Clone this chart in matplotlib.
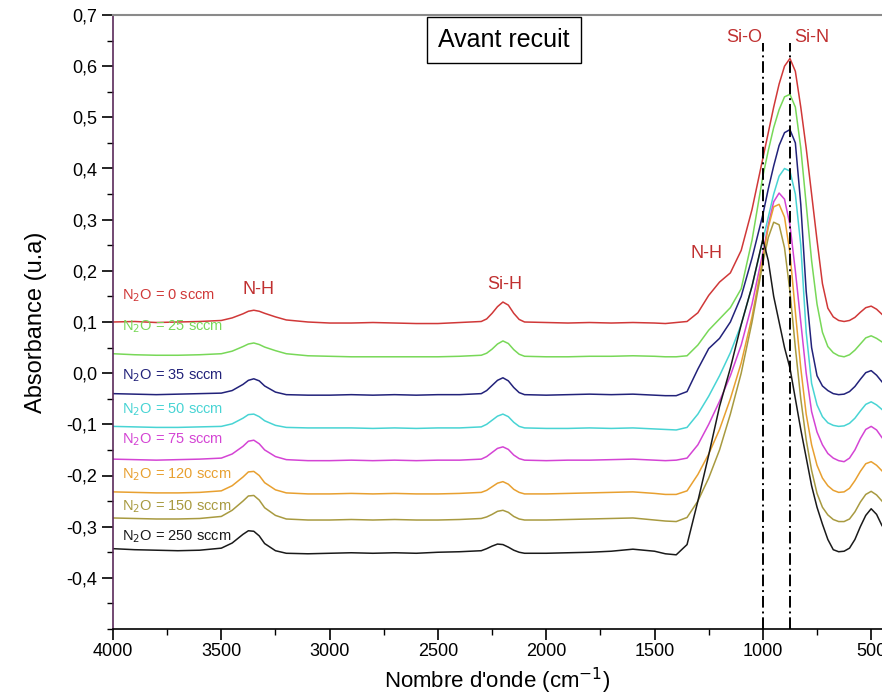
import matplotlib
matplotlib.use("Agg")
import matplotlib.pyplot as plt
from matplotlib.ticker import FixedLocator, MultipleLocator, FuncFormatter

plt.rcParams['font.family'] = ['Liberation Sans', 'DejaVu Sans']

# ---------------- data ----------------
wavenumber = [4000, 3900, 3800, 3700, 3600, 3500, 3450, 3400, 3375, 3350, 3325, 3300,
              3250, 3200, 3100, 3000, 2900, 2800, 2700, 2600, 2500, 2400, 2300, 2275,
              2250, 2225, 2200, 2175, 2150, 2125, 2100, 2000, 1900, 1800, 1700, 1600,
              1500, 1450, 1400, 1350, 1300, 1250, 1200, 1150, 1100, 1050, 1000, 975,
              950, 925, 900, 875, 850, 825, 800, 775, 750, 725, 700, 675, 650, 625,
              600, 575, 550, 525, 500, 475, 450]

abs_0 = [0.100, 0.101, 0.099, 0.100, 0.101, 0.103, 0.108, 0.116, 0.121, 0.123, 0.121, 0.117,
         0.110, 0.104, 0.100, 0.098, 0.098, 0.099, 0.098, 0.097, 0.097, 0.099, 0.101, 0.106,
         0.117, 0.130, 0.139, 0.133, 0.117, 0.105, 0.100, 0.099, 0.098, 0.099, 0.098, 0.099,
         0.098, 0.097, 0.099, 0.101, 0.118, 0.152, 0.178, 0.196, 0.240, 0.320, 0.420, 0.470,
         0.520, 0.565, 0.600, 0.615, 0.590, 0.520, 0.440, 0.350, 0.260, 0.175, 0.127, 0.110,
         0.103, 0.101, 0.103, 0.109, 0.119, 0.128, 0.131, 0.125, 0.115]
abs_25 = [0.038, 0.036, 0.035, 0.035, 0.036, 0.038, 0.043, 0.052, 0.057, 0.059, 0.056, 0.051,
          0.044, 0.038, 0.034, 0.033, 0.032, 0.032, 0.032, 0.032, 0.032, 0.033, 0.035, 0.039,
          0.047, 0.057, 0.063, 0.058, 0.046, 0.037, 0.033, 0.032, 0.032, 0.033, 0.033, 0.034,
          0.033, 0.032, 0.032, 0.034, 0.055, 0.084, 0.106, 0.128, 0.165, 0.260, 0.385, 0.435,
          0.480, 0.515, 0.540, 0.545, 0.520, 0.440, 0.330, 0.220, 0.135, 0.080, 0.052, 0.040,
          0.034, 0.032, 0.036, 0.045, 0.057, 0.069, 0.073, 0.068, 0.061]
abs_35 = [-0.040, -0.041, -0.042, -0.041, -0.040, -0.039, -0.034, -0.022, -0.014, -0.011, -0.015, -0.025,
          -0.037, -0.042, -0.043, -0.043, -0.042, -0.043, -0.042, -0.043, -0.042, -0.042, -0.040, -0.034,
          -0.024, -0.014, -0.009, -0.015, -0.028, -0.038, -0.042, -0.043, -0.042, -0.041, -0.042, -0.041,
          -0.043, -0.044, -0.044, -0.036, 0.008, 0.048, 0.068, 0.100, 0.150, 0.225, 0.310, 0.360,
          0.405, 0.445, 0.470, 0.476, 0.450, 0.330, 0.160, 0.050, -0.005, -0.025, -0.034, -0.040,
          -0.042, -0.041, -0.036, -0.026, -0.012, 0.001, 0.005, -0.004, -0.017]
abs_50 = [-0.104, -0.105, -0.106, -0.106, -0.105, -0.104, -0.099, -0.088, -0.081, -0.080, -0.085, -0.093,
          -0.102, -0.106, -0.107, -0.107, -0.107, -0.108, -0.107, -0.108, -0.107, -0.107, -0.105, -0.100,
          -0.092, -0.084, -0.080, -0.085, -0.096, -0.104, -0.107, -0.108, -0.108, -0.107, -0.108, -0.107,
          -0.109, -0.110, -0.111, -0.106, -0.080, -0.045, -0.005, 0.040, 0.095, 0.170, 0.260, 0.305,
          0.350, 0.385, 0.400, 0.395, 0.350, 0.250, 0.080, -0.020, -0.062, -0.085, -0.097, -0.102,
          -0.104, -0.103, -0.098, -0.088, -0.074, -0.061, -0.056, -0.062, -0.071]
abs_75 = [-0.168, -0.169, -0.170, -0.169, -0.168, -0.166, -0.158, -0.143, -0.133, -0.131, -0.138, -0.150,
          -0.163, -0.169, -0.171, -0.171, -0.170, -0.171, -0.170, -0.171, -0.170, -0.170, -0.168, -0.163,
          -0.155, -0.147, -0.144, -0.149, -0.160, -0.167, -0.170, -0.171, -0.170, -0.170, -0.169, -0.168,
          -0.170, -0.171, -0.170, -0.166, -0.140, -0.100, -0.055, -0.005, 0.055, 0.135, 0.235, 0.290,
          0.335, 0.352, 0.340, 0.290, 0.200, 0.100, 0.000, -0.075, -0.115, -0.140, -0.157, -0.166,
          -0.171, -0.173, -0.166, -0.150, -0.128, -0.110, -0.104, -0.111, -0.126]
abs_120 = [-0.232, -0.233, -0.234, -0.234, -0.233, -0.230, -0.220, -0.203, -0.193, -0.192, -0.200, -0.214,
           -0.228, -0.234, -0.236, -0.236, -0.235, -0.236, -0.235, -0.236, -0.236, -0.235, -0.233, -0.229,
           -0.222, -0.215, -0.212, -0.217, -0.227, -0.233, -0.236, -0.236, -0.235, -0.234, -0.233, -0.232,
           -0.235, -0.237, -0.237, -0.230, -0.198, -0.158, -0.110, -0.050, 0.020, 0.110, 0.225, 0.285,
           0.325, 0.330, 0.305, 0.235, 0.120, 0.010, -0.080, -0.140, -0.180, -0.205, -0.220, -0.229,
           -0.233, -0.232, -0.225, -0.210, -0.192, -0.177, -0.173, -0.180, -0.191]
abs_150 = [-0.283, -0.284, -0.285, -0.285, -0.284, -0.280, -0.268, -0.250, -0.240, -0.239, -0.248, -0.263,
           -0.278, -0.285, -0.287, -0.287, -0.286, -0.287, -0.286, -0.287, -0.287, -0.286, -0.284, -0.281,
           -0.276, -0.270, -0.268, -0.272, -0.280, -0.285, -0.287, -0.287, -0.286, -0.285, -0.284, -0.283,
           -0.287, -0.289, -0.290, -0.282, -0.250, -0.205, -0.150, -0.080, 0.000, 0.100, 0.215, 0.265,
           0.295, 0.290, 0.245, 0.160, 0.050, -0.050, -0.130, -0.190, -0.235, -0.262, -0.277, -0.286,
           -0.290, -0.290, -0.285, -0.271, -0.252, -0.237, -0.231, -0.238, -0.250]
abs_250 = [-0.343, -0.345, -0.346, -0.347, -0.346, -0.342, -0.332, -0.315, -0.308, -0.309, -0.318, -0.333,
           -0.347, -0.352, -0.353, -0.352, -0.351, -0.352, -0.351, -0.352, -0.350, -0.349, -0.347, -0.343,
           -0.338, -0.334, -0.335, -0.340, -0.346, -0.350, -0.352, -0.352, -0.351, -0.350, -0.348, -0.344,
           -0.348, -0.353, -0.355, -0.335, -0.250, -0.160, -0.065, 0.010, 0.095, 0.170, 0.262, 0.220,
           0.150, 0.100, 0.050, 0.010, -0.050, -0.110, -0.165, -0.220, -0.262, -0.295, -0.325, -0.345,
           -0.349, -0.348, -0.342, -0.325, -0.300, -0.278, -0.265, -0.276, -0.298]

series = [abs_0, abs_25, abs_35, abs_50, abs_75, abs_120, abs_150, abs_250]
labels = ["0", "25", "35", "50", "75", "120", "150", "250"]
colors = ['#d03838', '#78d858', '#22227a', '#48d4d4', '#d444d4', '#e8a030', '#a89a40', '#1a1a1a']
label_y = [0.151, 0.090, -0.005, -0.072, -0.130, -0.198, -0.261, -0.319]

band_names = ["N-H", "Si-H", "N-H", "Si-O", "Si-N"]
band_x = [3330, 2190, 1262, 1087, 773]
band_y = [0.164, 0.174, 0.233, 0.657, 0.657]
line_pos = [1000, 875]

yticks = [-0.4, -0.3, -0.2, -0.1, 0.0, 0.1, 0.2, 0.3, 0.4, 0.5, 0.6, 0.7]
xticks = [4000, 3500, 3000, 2500, 2000, 1500, 1000, 500]

# ---------------- figure ----------------
fig = plt.figure(figsize=(8.82, 7.0), dpi=100)
ax = fig.add_axes([113/882, 71/700, 769/882, 614/700])

for ys, c in zip(series, colors):
    ax.plot(wavenumber, ys, color=c, lw=1.1)

for lab, c, yy in zip(labels, colors, label_y):
    ax.text(3958, yy, "N$_2$O = %s sccm" % lab, color=c, fontsize=10.5,
            ha='left', va='center')

for name, bx, by in zip(band_names, band_x, band_y):
    ax.text(bx, by, name, color='#c03030', fontsize=13, ha='center', va='center')

for lp in line_pos:
    ax.plot([lp, lp], [-0.5, 0.645], color='black', lw=1.4,
            linestyle=(0, (6, 2, 1, 2)))

ax.set_xlim(4000, 450)
ax.set_ylim(-0.5, 0.7)
ax.xaxis.set_major_locator(FixedLocator(xticks))
ax.xaxis.set_minor_locator(MultipleLocator(250))
ax.yaxis.set_major_locator(FixedLocator(yticks))
ax.yaxis.set_minor_locator(MultipleLocator(0.05))
ax.yaxis.set_major_formatter(FuncFormatter(lambda v, p: ("%.1f" % v).replace('.', ',')))
ax.tick_params(axis='both', which='major', direction='out', length=8, width=1.2,
               labelsize=13)
ax.tick_params(axis='x', which='major', pad=2)
ax.tick_params(axis='both', which='minor', direction='out', length=4, width=1.0)

ax.spines['right'].set_visible(False)
ax.spines['top'].set_color('#8a8a8a')
ax.spines['top'].set_linewidth(1.5)
ax.spines['left'].set_color('#5a2a5a')
ax.spines['left'].set_linewidth(1.2)
ax.spines['bottom'].set_linewidth(1.2)

ax.set_xlabel("Nombre d'onde (cm$^{-1}$)", fontsize=16, labelpad=4)
ax.set_ylabel("Absorbance (u.a)", fontsize=17, labelpad=14)

fig.text(503.5/882, 1 - 40/700, "Avant recuit", fontsize=18, ha='center', va='center',
         bbox=dict(boxstyle='square,pad=0.45', facecolor='white', edgecolor='black', lw=1.0))

fig.savefig("out.png", dpi=100)
